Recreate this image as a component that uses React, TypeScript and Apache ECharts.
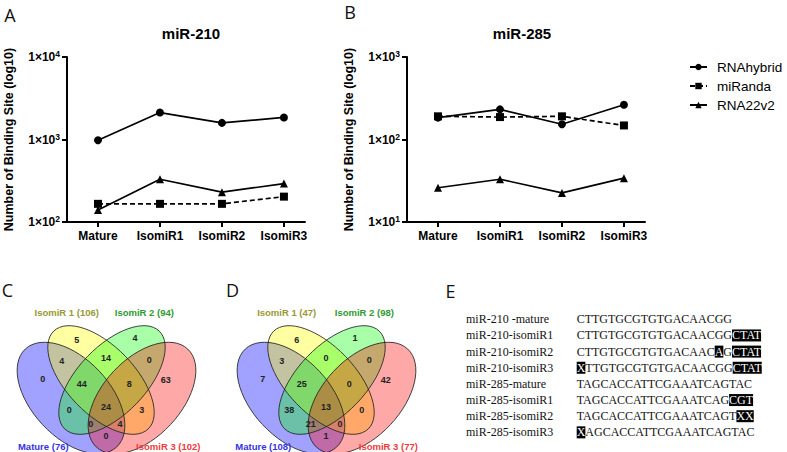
import React, { useEffect, useRef } from "react";
import * as echarts from "echarts";

// ---------- data ----------
const categories = ["Mature", "IsomiR1", "IsomiR2", "IsomiR3"];
const seriesNames = ["RNAhybrid", "miRanda", "RNA22v2"];
const mir210Title = "miR-210";
const mir285Title = "miR-285";
const mir210RNAhybrid = [980, 2120, 1590, 1850];
const mir210miRanda = [166, 166, 166, 203];
const mir210RNA22v2 = [140, 330, 230, 292];
const mir285RNAhybrid = [184, 232, 153, 264];
const mir285miRanda = [191, 187, 191, 148];
const mir285RNA22v2 = [26, 33, 22.5, 34];
const yAxisTitle = "Number of Binding Site (log10)";

const vennSetNames = ["Mature", "IsomiR 1", "IsomiR 2", "IsomiR 3"];
const vennCTotals = [76, 106, 94, 102];
const vennDTotals = [108, 47, 98, 77];
// regions: 1,2,3,4,12,23,34,123,234,13,1234,24,134,124,14
const vennCCounts = [0, 5, 4, 63, 4, 14, 0, 44, 8, 0, 24, 3, 0, 4, 0];
const vennDCounts = [7, 6, 1, 42, 3, 0, 0, 25, 0, 38, 13, 0, 21, 0, 1];

const seqLabels = [
  "miR-210 -mature",
  "miR-210-isomiR1",
  "miR-210-isomiR2",
  "miR-210-isomiR3",
  "miR-285-mature",
  "miR-285-isomiR1",
  "miR-285-isomiR2",
  "miR-285-isomiR3",
];
// [..] marks highlighted bases
const seqStrings = [
  "CTTGTGCGTGTGACAACGG",
  "CTTGTGCGTGTGACAACGG[CTAT]",
  "CTTGTGCGTGTGACAAC[A]G[CTAT]",
  "[X]TTGTGCGTGTGACAACGG[CTAT]",
  "TAGCACCATTCGAAATCAGTAC",
  "TAGCACCATTCGAAATCAG[CGT]",
  "TAGCACCATTCGAAATCAGT[XX]",
  "[X]AGCACCATTCGAAATCAGTAC",
];

// ---------- layout / style ----------
const SANS = "'Liberation Sans', Arial, Helvetica, sans-serif";
const SERIF = "'Liberation Serif', 'Times New Roman', serif";
const vennFills = ["rgba(0,0,255,0.37)", "rgba(255,255,0,0.37)", "rgba(0,255,0,0.34)", "rgba(255,0,0,0.34)"];
const vennLabelColors = ["#3434e0", "#999933", "#2f9a2f", "#f03a3a"];
const regionPos = [
  [42.7, 379], [76.7, 340], [135, 338], [165.7, 380],
  [61.7, 360.7], [106, 358.3], [149.3, 360],
  [81.7, 384], [129.3, 384],
  [69.3, 410], [106, 406.7], [141.7, 410],
  [90.7, 424], [120, 424], [106, 436],
];
const setLabelPos = [[43.3, 446.7], [66.7, 312.7], [144.3, 312.7], [168.3, 446.7]];
const deg = Math.PI / 180;
// outer (blue/red) and inner (yellow/green) ellipse geometry
const vennEllipses = [
  { x: 71, y: 398, a: 67, b: 39, r: -47 * deg },
  { x: 101, y: 380, a: 68, b: 34, r: -46 * deg },
  { x: 112, y: 380, a: 68, b: 34, r: 46 * deg },
  { x: 142, y: 398, a: 67, b: 39, r: 47 * deg },
];

function buildVenn(offsetX: number, counts: number[], totals: number[]) {
  const els: any[] = [];
  vennEllipses.forEach((e, i) => {
    els.push({
      type: "ellipse", silent: true, x: e.x + offsetX, y: e.y, rotation: e.r,
      shape: { cx: 0, cy: 0, rx: e.a, ry: e.b },
      style: { fill: vennFills[i], stroke: null },
    });
  });
  vennEllipses.forEach((e) => {
    els.push({
      type: "ellipse", silent: true, x: e.x + offsetX, y: e.y, rotation: e.r,
      shape: { cx: 0, cy: 0, rx: e.a, ry: e.b },
      style: { fill: null, stroke: "#222", lineWidth: 0.8 },
    });
  });
  counts.forEach((c, i) => {
    els.push({
      type: "text", silent: true, x: regionPos[i][0] + offsetX, y: regionPos[i][1],
      style: { text: String(c), fontSize: 9, fontWeight: "bold", fontFamily: SANS, fill: "#222", align: "center", verticalAlign: "middle" },
    });
  });
  vennSetNames.forEach((n, i) => {
    els.push({
      type: "text", silent: true, x: setLabelPos[i][0] + offsetX, y: setLabelPos[i][1],
      style: { text: `${n} (${totals[i]})`, fontSize: 9.5, fontWeight: "bold", fontFamily: SANS, fill: vennLabelColors[i], align: "center", verticalAlign: "middle" },
    });
  });
  return els;
}

function buildSeq() {
  const els: any[] = [];
  const y0 = 319.3, dy = 16.15;
  seqLabels.forEach((lab, i) => {
    els.push({
      type: "text", silent: true, x: 466, y: y0 + i * dy,
      style: { text: lab, fontSize: 12, fontFamily: SERIF, fill: "#111", verticalAlign: "middle" },
    });
    const s = seqStrings[i];
    const parts = s.split(/(\[[^\]]+\])/).filter((p) => p.length > 0);
    const rich = parts
      .map((p) => (p.startsWith("[") ? `{h|${p.slice(1, -1)}}` : `{n|${p}}`))
      .join("");
    els.push({
      type: "text", silent: true, x: 576.7, y: y0 + i * dy,
      style: {
        text: rich, verticalAlign: "middle",
        rich: {
          n: { fontSize: 12, fontFamily: SERIF, fill: "#111", lineHeight: 12 },
          h: { fontSize: 12, fontFamily: SERIF, fill: "#fff", backgroundColor: "#000", lineHeight: 12 },
        },
      },
    });
  });
  return els;
}

function panelLetter(t: string, x: number, y: number) {
  return {
    type: "text", silent: true, x, y,
    style: { text: t, fontSize: 18, fontFamily: "'Open Sans', 'Liberation Sans', sans-serif", fill: "#111", align: "center", verticalAlign: "middle" },
  };
}

function chartTitle(t: string, x: number) {
  return {
    type: "text", silent: true, x, y: 33,
    style: { text: t, fontSize: 15, fontWeight: "bold", fontFamily: SANS, fill: "#000", align: "center", verticalAlign: "middle" },
  };
}

function xAxisFor(gridIndex: number) {
  return {
    type: "value", gridIndex, min: -0.5, max: 3.34,
    axisLine: { show: true, onZero: false, lineStyle: { color: "#000", width: 2 } },
    axisTick: { show: true, length: 5, lineStyle: { color: "#000", width: 2 }, customValues: [0, 1, 2, 3] },
    axisLabel: {
      customValues: [0, 1, 2, 3], margin: 8,
      formatter: (v: number) => categories[Math.round(v)] ?? "",
      fontSize: 12, fontWeight: "bold", fontFamily: SANS, color: "#000",
    },
    splitLine: { show: false },
  };
}

function yAxisFor(gridIndex: number, min: number, max: number) {
  return {
    type: "log", gridIndex, logBase: 10, min, max,
    name: yAxisTitle, nameLocation: "middle", nameGap: 52,
    nameTextStyle: { fontSize: 12.5, fontWeight: "bold", fontFamily: SANS, color: "#000" },
    axisLine: { show: true, onZero: false, lineStyle: { color: "#000", width: 2 } },
    axisTick: { show: true, length: 5, lineStyle: { color: "#000", width: 2 } },
    minorTick: { show: false },
    axisLabel: {
      margin: 7,
      formatter: (v: number) => `{b|1×10}{s|${Math.round(Math.log10(v))}}`,
      rich: {
        b: { fontSize: 12, fontWeight: "bold", fontFamily: SANS, color: "#000", lineHeight: 15 },
        s: { fontSize: 8.5, fontWeight: "bold", fontFamily: SANS, color: "#000", lineHeight: 9, verticalAlign: "top" },
      },
    },
    splitLine: { show: false },
  };
}

const symbols = ["circle", "rect", "triangle"];
const symbolSizes = [8, 8, 8];

function seriesFor(idx: number, values: number[][]) {
  return values.map((vals, i) => ({
    type: "line", name: seriesNames[i], xAxisIndex: idx, yAxisIndex: idx,
    data: vals.map((v, j) => [j, v]),
    symbol: symbols[i], symbolSize: symbolSizes[i],
    lineStyle: { color: "#000", width: 1.7, type: i === 1 ? [5, 3] : "solid" },
    itemStyle: { color: "#000" },
  }));
}

export default function App() {
  const ref = useRef<HTMLDivElement>(null);
  useEffect(() => {
    if (!ref.current) return;
    const chart = echarts.init(ref.current, null, { renderer: "svg" });
    chart.setOption({
      animation: false,
      backgroundColor: "#fff",
      grid: [
        { left: 67, top: 57, width: 238, height: 165 },
        { left: 407, top: 57, width: 238, height: 165 },
      ],
      xAxis: [xAxisFor(0), xAxisFor(1)],
      yAxis: [yAxisFor(0, 100, 10000), yAxisFor(1, 10, 1000)],
      legend: {
        data: seriesNames, orient: "vertical", left: 689, top: 60, padding: 0,
        itemWidth: 17, itemHeight: 8, itemGap: 5,
        textStyle: { fontSize: 13.5, lineHeight: 14, fontFamily: SANS, color: "#000", padding: [0, 0, 0, 5] },
      },
      series: [
        ...seriesFor(0, [mir210RNAhybrid, mir210miRanda, mir210RNA22v2]),
        ...seriesFor(1, [mir285RNAhybrid, mir285miRanda, mir285RNA22v2]),
      ],
      graphic: [
        panelLetter("A", 10, 15),
        panelLetter("B", 350, 12),
        panelLetter("C", 7.5, 290),
        panelLetter("D", 232.5, 290),
        panelLetter("E", 450.5, 291),
        chartTitle(mir210Title, 191),
        chartTitle(mir285Title, 522),
        ...buildVenn(0, vennCCounts, vennCTotals),
        ...buildVenn(220, vennDCounts, vennDTotals),
        ...buildSeq(),
      ],
    });
    return () => chart.dispose();
  }, []);
  return <div ref={ref} style={{ position: "fixed", left: 0, top: 0, width: 787, height: 452 }} />;
}
